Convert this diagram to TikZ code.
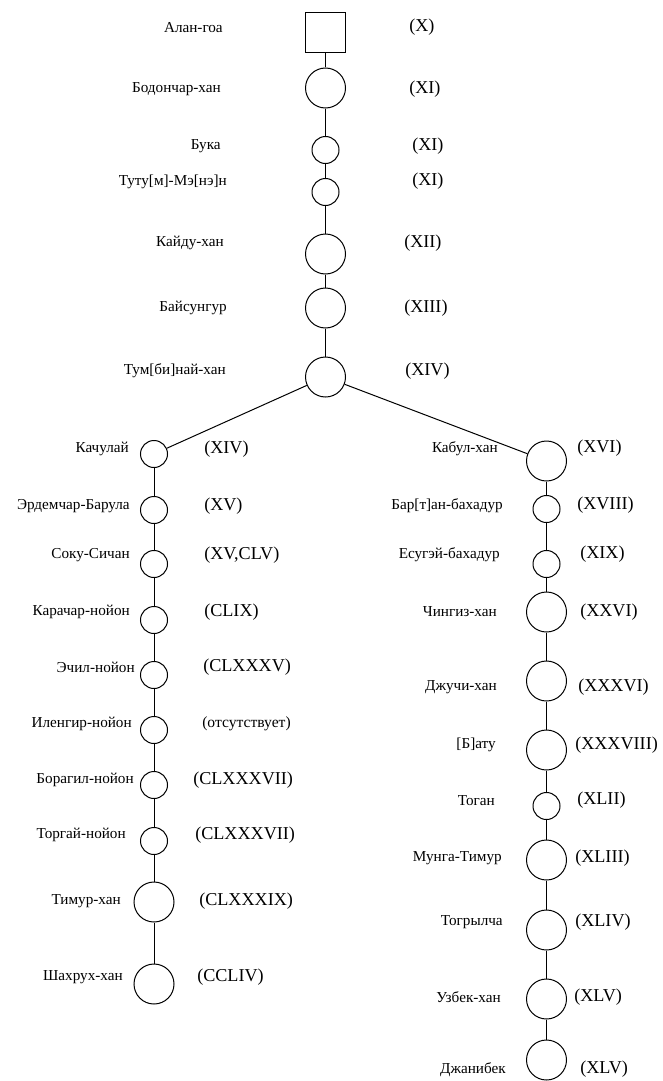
\documentclass[tikz,border=0pt]{standalone}
\usepackage{fontspec}
\setmainfont{Liberation Serif}
\begin{document}
\begin{tikzpicture}[x=0.75pt,y=-0.75pt,
  big/.style={draw,circle,minimum size=30pt,inner sep=0pt,line width=0.75pt},
  small/.style={draw,circle,minimum size=20.25pt,inner sep=0pt,line width=0.75pt},
  sq/.style={draw,rectangle,minimum size=30pt,inner sep=0pt,line width=0.75pt},
  nm/.style={anchor=east,inner sep=0pt,font=\fontsize{11.4}{13}\selectfont},
  gen/.style={anchor=west,inner sep=0pt,font=\fontsize{13.6}{15}\selectfont},
  link/.style={line width=0.75pt}]
\useasboundingbox (0,0) rectangle (662,1081);
% trunk
\node[sq] (n0) at (325.5,32.5) {};
\node[big] (n1) at (325.5,88) {};
\node[small] (n2) at (325.5,150) {};
\node[small] (n3) at (325.5,192) {};
\node[big] (n4) at (325.5,254) {};
\node[big] (n5) at (325.5,308) {};
\node[big] (n6) at (325.5,377) {};
\node[nm] (t0) at (223,28) {Алан-гоа};
\node[nm] (t1) at (221,89) {Бодончар-хан};
\node[nm] (t2) at (221,146) {Бука};
\node[nm] (t3) at (227,182) {Туту[м]-Мэ[нэ]н};
\node[nm] (t4) at (224,243) {Кайду-хан};
\node[nm] (t5) at (227,308) {Байсунгур};
\node[nm] (t6) at (226,371) {Тум[би]най-хан};
\node[gen] (g0) at (409,27) {(X)};
\node[gen] (g1) at (409,89) {(XI)};
\node[gen] (g2) at (412,146) {(XI)};
\node[gen] (g3) at (412,181) {(XI)};
\node[gen] (g4) at (404,243) {(XII)};
\node[gen] (g5) at (404,308) {(XIII)};
\node[gen] (g6) at (405,371) {(XIV)};
% left branch
\node[small] (l1) at (154,454) {};
\node[small] (l2) at (154,510) {};
\node[small] (l3) at (154,564) {};
\node[small] (l4) at (154,620) {};
\node[small] (l5) at (154,675) {};
\node[small] (l6) at (154,730) {};
\node[small] (l7) at (154,785) {};
\node[small] (l8) at (154,841) {};
\node[big] (l9) at (154,902) {};
\node[big] (l10) at (154,984) {};
\node[nm] (lt1) at (129,449) {Качулай};
\node[nm] (lt2) at (130,506) {Эрдемчар-Барула};
\node[nm] (lt3) at (130,555) {Соку-Сичан};
\node[nm] (lt4) at (130,612) {Карачар-нойон};
\node[nm] (lt5) at (135,667) {Эчил-нойон};
\node[nm] (lt6) at (132,724) {Иленгир-нойон};
\node[nm] (lt7) at (134,780) {Борагил-нойон};
\node[nm] (lt8) at (126,835) {Торгай-нойон};
\node[nm] (lt9) at (121,901) {Тимур-хан};
\node[nm] (lt10) at (123,977) {Шахрух-хан};
\node[gen] (lg1) at (204,449) {(XIV)};
\node[gen] (lg2) at (204,506) {(XV)};
\node[gen] (lg3) at (204,555) {(XV,CLV)};
\node[gen] (lg4) at (204,612) {(CLIX)};
\node[gen] (lg5) at (203,667) {(CLXXXV)};
\node[gen,font=\fontsize{11.7}{13}\selectfont] (lg6) at (202,724) {(отсутствует)};
\node[gen] (lg7) at (193,780) {(CLXXXVII)};
\node[gen] (lg8) at (195,835) {(CLXXXVII)};
\node[gen] (lg9) at (199,901) {(CLXXXIX)};
\node[gen] (lg10) at (197,977) {(CCLIV)};
% right branch
\node[big] (r1) at (546.5,461) {};
\node[small] (r2) at (546.5,509) {};
\node[small] (r3) at (546.5,564) {};
\node[big] (r4) at (546.5,612) {};
\node[big] (r5) at (546.5,681) {};
\node[big] (r6) at (546.5,750) {};
\node[small] (r7) at (546.5,806) {};
\node[big] (r8) at (546.5,860) {};
\node[big] (r9) at (546.5,930) {};
\node[big] (r10) at (546.5,999) {};
\node[big] (r11) at (546.5,1060) {};
\node[nm] (rt1) at (498,449) {Кабул-хан};
\node[nm] (rt2) at (503,506) {Бар[т]ан-бахадур};
\node[nm] (rt3) at (500,555) {Есугэй-бахадур};
\node[nm] (rt4) at (497,612) {Чингиз-хан};
\node[nm] (rt5) at (497,687) {Джучи-хан};
\node[nm] (rt6) at (496,745) {[Б]ату};
\node[nm] (rt7) at (495,801) {Тоган};
\node[nm] (rt8) at (502,858) {Мунга-Тимур};
\node[nm] (rt9) at (503,922) {Тогрылча};
\node[nm] (rt10) at (501,997) {Узбек-хан};
\node[nm] (rt11) at (506,1070) {Джанибек};
\node[gen] (rg1) at (577,448) {(XVI)};
\node[gen] (rg2) at (577,505) {(XVIII)};
\node[gen] (rg3) at (580,554) {(XIX)};
\node[gen] (rg4) at (580,612) {(XXVI)};
\node[gen] (rg5) at (578,687) {(XXXVI)};
\node[gen] (rg6) at (575,745) {(XXXVIII)};
\node[gen] (rg7) at (577,800) {(XLII)};
\node[gen] (rg8) at (575,858) {(XLIII)};
\node[gen] (rg9) at (575,922) {(XLIV)};
\node[gen] (rg10) at (574,997) {(XLV)};
\node[gen] (rg11) at (580,1069) {(XLV)};
% links
\draw[link] (n0)--(n1)--(n2)--(n3)--(n4)--(n5)--(n6);
\draw[link] (n6)--(l1);
\draw[link] (n6)--(r1);
\draw[link] (l1)--(l2)--(l3)--(l4)--(l5)--(l6)--(l7)--(l8)--(l9)--(l10);
\draw[link] (r1)--(r2)--(r3)--(r4)--(r5)--(r6)--(r7)--(r8)--(r9)--(r10)--(r11);
\end{tikzpicture}
\end{document}
